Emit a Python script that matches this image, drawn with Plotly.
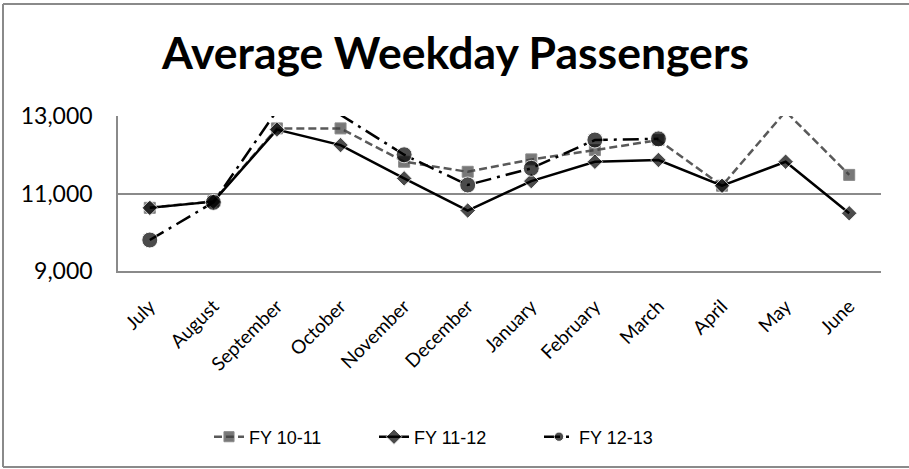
import plotly.graph_objects as go

months = ["July", "August", "September", "October", "November", "December",
          "January", "February", "March", "April", "May", "June"]
fy1011 = [10630, 10800, 12680, 12680, 11820, 11560, 11880, 12120, 12380, 11200, 13120, 11480]
fy1112 = [10630, 10790, 12650, 12250, 11390, 10560, 11320, 11820, 11865, 11200, 11820, 10490]
fy1213 = [9800, 10770, 13140, 13030, 12000, 11220, 11650, 12380, 12410, None, None, None]
series_names = ["FY 10-11", "FY 11-12", "FY 12-13"]
y_ticks = [9000, 11000, 13000]

YMIN, YMAX = 9000, 13000


def visible_sizes(vals, s):
    return [s if (v is not None and YMIN <= v <= YMAX) else 0 for v in vals]


fig = go.Figure()
fig.add_trace(go.Scatter(
    x=months, y=fy1011, name=series_names[0], mode="lines+markers",
    line=dict(color="#595959", width=2.5, dash="8px,4px"),
    marker=dict(symbol="square", size=visible_sizes(fy1011, 11), color="#404040"),
))
fig.add_trace(go.Scatter(
    x=months, y=fy1112, name=series_names[1], mode="lines+markers",
    line=dict(color="#000000", width=2.5),
    marker=dict(symbol="diamond", size=visible_sizes(fy1112, 12), color="#000000"),
))
fig.add_trace(go.Scatter(
    x=months, y=fy1213, name=series_names[2], mode="lines+markers",
    line=dict(color="#000000", width=2.5, dash="16px,6px,3px,6px"),
    marker=dict(symbol="circle", size=visible_sizes(fy1213, 16), color="#000000"),
))

W, H = 909, 469
L, R, T, B = 118, 28, 116, 198
pw, ph = W - L - R, H - T - B


def px_x(p):
    return (p - L) / pw


def px_y(p):
    return (H - B - p) / ph


border = dict(color="#8a8a8a", width=2)
frame = [
    dict(type="line", xref="paper", yref="paper", x0=px_x(3), x1=px_x(W), y0=px_y(4), y1=px_y(4), line=border),
    dict(type="line", xref="paper", yref="paper", x0=px_x(3), x1=px_x(3), y0=px_y(4), y1=px_y(467), line=border),
    dict(type="line", xref="paper", yref="paper", x0=px_x(3), x1=px_x(W), y0=px_y(467), y1=px_y(467), line=border),
]

fig.update_layout(
    width=W, height=H,
    margin=dict(l=L, r=R, t=T, b=B, autoexpand=False),
    paper_bgcolor="white", plot_bgcolor="white",
    title=dict(text="Average Weekday Passengers", x=455.5 / W, xref="container", xanchor="center",
               y=1 - 53 / H, yref="container", yanchor="middle",
               font=dict(family="Lato", size=44.5, color="#000000", weight="bold")),
    showlegend=True,
    legend=dict(orientation="h", xref="container", yref="container",
                x=209 / W, xanchor="left", y=1 - 437 / H, yanchor="middle",
                entrywidth=120, entrywidthmode="pixels",
                font=dict(family="Liberation Sans", size=18, color="#000000"),
                bgcolor="rgba(0,0,0,0)"),
    xaxis=dict(type="category", categoryorder="array", categoryarray=months,
               range=[-0.5, len(months) - 0.5], showgrid=False, automargin=False,
               showline=True, linecolor="#8a8a8a", linewidth=1.5,
               ticks="", tickangle=-45, ticklabelstandoff=15,
               tickfont=dict(family="Lato", size=19, color="#000000")),
    yaxis=dict(range=[YMIN, YMAX], tickvals=y_ticks, tickformat=",", automargin=False,
               showgrid=True, gridcolor="#8a8a8a", gridwidth=1.5,
               showline=True, linecolor="#8a8a8a", linewidth=1.5,
               zeroline=False, ticks="", ticklabelstandoff=19,
               tickfont=dict(family="Lato", size=23, color="#000000")),
    shapes=frame,
)

fig.write_html("out.html", config={"displayModeBar": False},
               post_script="document.body.style.margin='0';document.body.style.overflow='hidden';")
